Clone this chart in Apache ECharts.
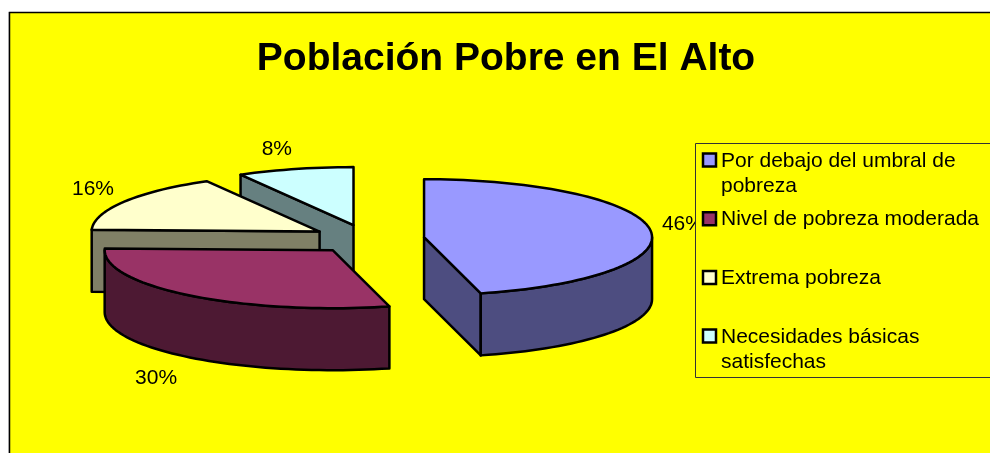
<!DOCTYPE html>
<html>
<head>
<meta charset="utf-8">
<style>
  html, body { margin: 0; padding: 0; background: #fff; }
  #chart { width: 990px; height: 453px; }
</style>
<script src="https://cdn.jsdelivr.net/npm/echarts@6/dist/echarts.min.js"></script>
</head>
<body>
<div id="chart"></div>
<script>
const titleText = 'Población Pobre en El Alto';
const categories = ['Por debajo del umbral de\npobreza', 'Nivel de pobreza moderada', 'Extrema pobreza', 'Necesidades básicas\nsatisfechas'];
// labels are rounded, the slice boundaries say a bit more
const shares = [46, 29.5, 16.25, 8.25];
const topColors = ['#9999FF', '#993366', '#FFFFCC', '#CCFFFF'];
const sideColors = ['#4D4D80', '#4D1933', '#808066', '#668080'];

// pie geometry
const CX = 368, CY = 239, RX = 228, RY = 58, DEPTH = 62, EXPLODE = 56.5;
const LABEL_FONT = '21px "Liberation Sans", Arial, sans-serif';
// label distance past the rim, then a small hand nudge per slice
const labelNudge = [[-7, -3], [-9, 69], [3, -3], [-8, -2]];

const total = shares.reduce((a, b) => a + b, 0);
const deg = Math.PI / 180;

function rimPoint(c, angle, drop) {
    return [c[0] + RX * Math.sin(angle * deg), c[1] - RY * Math.cos(angle * deg) + (drop || 0)];
}

function arc(c, from, to, drop) {
    const pts = [];
    const steps = Math.max(2, Math.ceil(Math.abs(to - from) / 2));
    for (let i = 0; i <= steps; i++) pts.push(rimPoint(c, from + (to - from) * i / steps, drop));
    return pts;
}

function poly(points, fill, z2) {
    return {
        type: 'polygon', z2: z2,
        shape: { points: points },
        style: { fill: fill, stroke: '#000', lineWidth: 2.5, lineJoin: 'round' }
    };
}

function renderSlice(params, api) {
    const i = params.dataIndex;
    const before = shares.slice(0, i).reduce((a, b) => a + b, 0);
    const a0 = before / total * 360;
    const a1 = a0 + api.value(0) / total * 360;
    const mid = (a0 + a1) / 2;
    const c = [
        CX + EXPLODE * Math.sin(mid * deg),
        CY - EXPLODE * RY / RX * Math.cos(mid * deg)
    ];
    const below = p => [p[0], p[1] + DEPTH];
    const base = (shares.length - i) * 10;
    const children = [];

    // radial walls that face the viewer
    if (Math.sin(a0 * deg) < -0.01) {
        const p = rimPoint(c, a0);
        children.push(poly([c, p, below(p), below(c)], sideColors[i], base));
    }
    if (Math.sin(a1 * deg) > 0.01) {
        const p = rimPoint(c, a1);
        children.push(poly([c, p, below(p), below(c)], sideColors[i], base));
    }
    // outer rim, only the front half of the ellipse shows
    const r0 = Math.max(a0, 90), r1 = Math.min(a1, 270);
    if (r1 > r0) {
        children.push(poly(arc(c, r0, r1, 0).concat(arc(c, r1, r0, DEPTH)), sideColors[i], base + 1));
    }
    // top face
    children.push(poly([c].concat(arc(c, a0, a1, 0)), topColors[i], base + 2));

    children.push({
        type: 'text', z2: base + 3,
        style: {
            text: Math.round(api.value(0) / total * 100) + '%',
            x: c[0] + (RX + 40) * Math.sin(mid * deg) + labelNudge[i][0],
            y: c[1] - (RY + 18) * Math.cos(mid * deg) + labelNudge[i][1],
            font: LABEL_FONT, fill: '#000', align: 'center', verticalAlign: 'middle'
        }
    });
    return { type: 'group', children: children };
}

const legendItems = [];
categories.forEach((name, i) => {
    const y = 160 + i * 58.7;
    legendItems.push({
        type: 'rect', z: 21,
        shape: { x: 703, y: y - 6.5, width: 13, height: 13 },
        style: { fill: topColors[i], stroke: '#000', lineWidth: 2.5 }
    });
    legendItems.push({
        type: 'text', z: 21,
        style: {
            text: name, x: 721, y: y - 11.5, font: LABEL_FONT, lineHeight: 25,
            fill: '#000', align: 'left', verticalAlign: 'top'
        }
    });
});

const chart = echarts.init(document.getElementById('chart'));
chart.setOption({
    animation: false,
    backgroundColor: '#fff',
    title: {
        text: titleText, left: 501, top: 35, textAlign: 'center',
        textStyle: { fontFamily: '"Liberation Sans", Arial, sans-serif', fontWeight: 'bold', fontSize: 39, color: '#000' }
    },
    graphic: [
        { type: 'line', z: -2, shape: { x1: 8.5, y1: 12, x2: 8.5, y2: 453 }, style: { stroke: '#d8d8d8', lineWidth: 1 } },
        {
            type: 'rect', z: -1,
            shape: { x: 9.5, y: 12.5, width: 1000, height: 500 },
            style: { fill: '#FFFF00', stroke: '#000', lineWidth: 1.5 }
        },
        {
            type: 'rect', z: 20,
            shape: { x: 695.5, y: 143.5, width: 310, height: 234 },
            style: { fill: '#FFFF00', stroke: '#333', lineWidth: 1 }
        }
    ].concat(legendItems),
    series: [{
        type: 'custom',
        coordinateSystem: 'none',
        silent: true,
        renderItem: renderSlice,
        data: shares.map(v => [v])
    }]
});
</script>
</body>
</html>
